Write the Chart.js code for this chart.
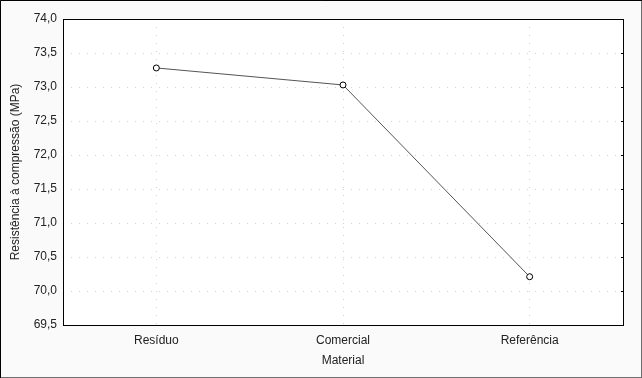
<!DOCTYPE html>
<html>
<head>
<meta charset="utf-8">
<script src="https://cdn.jsdelivr.net/npm/chart.js@4/dist/chart.umd.min.js"></script>
<style>
  html, body { margin: 0; padding: 0; background: #fafafa; }
  #wrap { width: 642px; height: 378px; }
</style>
</head>
<body>
<div id="wrap"><canvas id="chart" width="642" height="378"></canvas></div>
<script>
const materials = ["Resíduo", "Comercial", "Referência"];
const strength = [73.28, 73.03, 70.21];
const yTicks = [69.5, 70.0, 70.5, 71.0, 71.5, 72.0, 72.5, 73.0, 73.5, 74.0];

const frame = {
  id: "frame",
  beforeDraw(chart) {
    const c = chart.ctx;
    const a = chart.chartArea;
    c.save();
    c.fillStyle = "#fafafa";
    c.fillRect(0, 0, chart.width, chart.height);
    c.strokeStyle = "#6e6e6e";
    c.lineWidth = 1;
    c.strokeRect(0.5, 0.5, chart.width - 1, chart.height - 1);
    c.strokeStyle = "#000";
    c.beginPath();
    c.moveTo(0.5, chart.height);
    c.lineTo(0.5, 0.5);
    c.lineTo(chart.width, 0.5);
    c.stroke();
    c.fillStyle = "#fff";
    c.fillRect(a.left, a.top, a.right - a.left, a.bottom - a.top);
    c.restore();
  },
  afterDatasetsDraw(chart) {
    const c = chart.ctx;
    const a = chart.chartArea;
    const y = chart.scales.y;
    c.save();
    c.strokeStyle = "#000";
    c.lineWidth = 1;
    c.strokeRect(Math.round(a.left) + 0.5, Math.round(a.top) + 0.5,
      Math.round(a.right - a.left), Math.round(a.bottom - a.top));
    // small ticks on the right border
    c.beginPath();
    yTicks.forEach((v) => {
      const py = Math.round(y.getPixelForValue(v)) + 0.5;
      c.moveTo(a.right - 2, py);
      c.lineTo(a.right, py);
    });
    c.stroke();
    c.restore();
  },
};

Chart.defaults.font.family = "'Liberation Sans', Arial, sans-serif";
Chart.defaults.font.size = 12;
Chart.defaults.color = "#222";

new Chart(document.getElementById("chart"), {
  type: "line",
  data: {
    labels: materials,
    datasets: [
      {
        data: strength,
        borderColor: "#555",
        borderWidth: 1,
        pointRadius: 3,
        pointHoverRadius: 3,
        pointBackgroundColor: "#fff",
        pointBorderColor: "#000",
        pointBorderWidth: 1,
        tension: 0,
      },
    ],
  },
  options: {
    responsive: false,
    animation: false,
    layout: { padding: { top: 19, right: 19, left: 0, bottom: 0 } },
    plugins: { legend: { display: false }, tooltip: { enabled: false } },
    scales: {
      x: {
        offset: true,
        grid: { offset: false, color: "#d4d4d4", drawTicks: false },
        border: { display: false, dash: [1, 7] },
        ticks: { padding: 8, color: "#222" },
        title: { display: true, text: "Material", padding: { top: 4, bottom: 10 }, color: "#222" },
        afterFit(scale) { scale.height = 53; },
      },
      y: {
        min: 69.5,
        max: 74.0,
        afterBuildTicks(scale) { scale.ticks = yTicks.map((v) => ({ value: v })); },
        grid: { color: "#d4d4d4", drawTicks: false },
        border: { display: false, dash: [1, 7] },
        ticks: {
          padding: 6,
          color: "#222",
          callback: (v) => Number(v).toFixed(1).replace(".", ","),
        },
        title: {
          display: true,
          text: "Resistência à compressão (MPa)",
          padding: { top: 8, bottom: 0 },
          color: "#222",
        },
        afterFit(scale) { scale.width = 63; },
      },
    },
  },
  plugins: [frame],
});
</script>
</body>
</html>
